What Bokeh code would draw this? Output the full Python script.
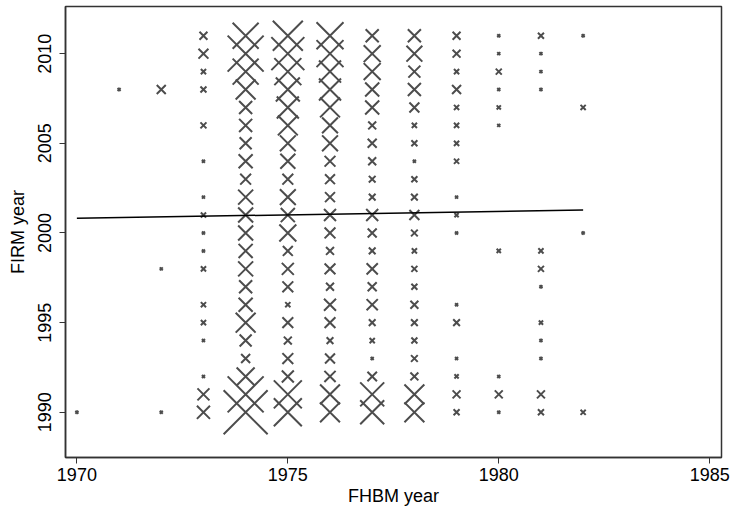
from bokeh.plotting import figure
from bokeh.models import Range1d, FixedTicker, ColumnDataSource
from bokeh.embed import file_html
from bokeh.resources import INLINE
import numpy as np

# FHBM year (x), FIRM year (y), number of observations (marker weight)
fhbm_year = (
    [1970] + [1971] + [1972] * 3
    + [1973] * 17 + [1974] * 22 + [1975] * 22 + [1976] * 22
    + [1977] * 22 + [1978] * 22 + [1979] * 17 + [1980] * 10
    + [1981] * 12 + [1982] * 4
)
firm_year = [
    1990,
    2008,
    2008, 1998, 1990,
    2011, 2010, 2009, 2008, 2006, 2004, 2002, 2001, 2000, 1999, 1998, 1996, 1995, 1994, 1992, 1991, 1990,
    2011, 2010, 2009, 2008, 2007, 2006, 2005, 2004, 2003, 2002, 2001, 2000, 1999, 1998, 1997, 1996, 1995, 1994, 1993, 1992, 1991, 1990,
    2011, 2010, 2009, 2008, 2007, 2006, 2005, 2004, 2003, 2002, 2001, 2000, 1999, 1998, 1997, 1996, 1995, 1994, 1993, 1992, 1991, 1990,
    2011, 2010, 2009, 2008, 2007, 2006, 2005, 2004, 2003, 2002, 2001, 2000, 1999, 1998, 1997, 1996, 1995, 1994, 1993, 1992, 1991, 1990,
    2011, 2010, 2009, 2008, 2007, 2006, 2005, 2004, 2003, 2002, 2001, 2000, 1999, 1998, 1997, 1996, 1995, 1994, 1993, 1992, 1991, 1990,
    2011, 2010, 2009, 2008, 2007, 2006, 2005, 2004, 2003, 2002, 2001, 2000, 1999, 1998, 1997, 1996, 1995, 1994, 1993, 1992, 1991, 1990,
    2011, 2010, 2009, 2008, 2007, 2006, 2005, 2004, 2002, 2001, 2000, 1996, 1995, 1993, 1992, 1991, 1990,
    2011, 2010, 2009, 2008, 2007, 2006, 1999, 1992, 1991, 1990,
    2011, 2010, 2009, 2008, 1999, 1998, 1997, 1995, 1994, 1993, 1991, 1990,
    2011, 2007, 2000, 1990,
]
n_obs = [
    1,
    1,
    9, 1, 1,
    7, 11, 3, 4, 4, 1, 1, 3, 1, 1, 3, 3, 3, 1, 1, 16, 19,
    75, 144, 75, 44, 19, 19, 16, 22, 13, 25, 25, 25, 22, 25, 19, 22, 44, 16, 9, 36, 144, 215,
    100, 121, 81, 64, 54, 44, 28, 25, 13, 28, 22, 32, 11, 16, 13, 3, 13, 7, 13, 16, 87, 87,
    81, 81, 54, 54, 44, 28, 28, 13, 11, 11, 16, 13, 7, 13, 7, 16, 13, 5, 11, 14, 44, 44,
    19, 32, 32, 22, 22, 7, 9, 7, 5, 5, 16, 9, 5, 14, 9, 14, 5, 3, 1, 10, 64, 64,
    19, 28, 16, 19, 11, 3, 4, 1, 4, 5, 11, 5, 3, 4, 4, 7, 5, 4, 5, 7, 44, 44,
    7, 7, 3, 9, 3, 3, 3, 3, 1, 2, 1, 1, 5, 1, 2, 7, 4,
    1, 1, 4, 1, 2, 1, 2, 1, 7, 1,
    4, 1, 1, 1, 3, 4, 1, 2, 1, 1, 7, 4,
    1, 3, 1, 3,
]

# fitted line (linear fit of FIRM year on FHBM year)
fit_x = [1970, 1982]
fit_y = [2000.82, 2001.28]

x_ticks = [1970, 1975, 1980, 1985]
y_ticks = [1990, 1995, 2000, 2005, 2010]

src = ColumnDataSource(dict(
    x=fhbm_year,
    y=firm_year,
    size=list(3.0 * np.sqrt(2.0) * np.sqrt(np.array(n_obs, dtype=float))),
))

FONT = "Liberation Sans"
p = figure(
    width=730, height=508,
    output_backend="svg", toolbar_location=None,
    x_range=Range1d(1969.73, 1985.28),
    y_range=Range1d(1987.48, 2012.63),
    min_border_left=65, min_border_right=9,
    min_border_top=6, min_border_bottom=50,
    background_fill_color="white", border_fill_color="white",
)
p.outline_line_color = "#333333"
p.outline_line_width = 1.5
p.grid.visible = False

p.scatter("x", "y", source=src, marker="x", size="size",
          line_color="#4d4d4d", line_width=2)
p.line(fit_x, fit_y, line_color="black", line_width=1.5)

for ax in (p.xaxis[0], p.yaxis[0]):
    ax.axis_line_color = "#333333"
    ax.axis_line_width = 1.5
    ax.major_tick_line_color = "#333333"
    ax.major_tick_out = 6
    ax.major_tick_in = 0
    ax.minor_tick_line_color = None
    ax.major_label_text_font = FONT
    ax.major_label_text_font_size = "18px"
    ax.major_label_text_color = "black"
    ax.major_label_text_line_height = 0.9
    ax.axis_label_text_font = FONT
    ax.axis_label_text_font_size = "18px"
    ax.axis_label_text_font_style = "normal"
    ax.axis_label_text_color = "black"
    ax.axis_label_text_line_height = 0.9

p.xaxis.ticker = FixedTicker(ticks=x_ticks)
p.yaxis.ticker = FixedTicker(ticks=y_ticks)
p.xaxis.axis_label = "FHBM year"
p.yaxis.axis_label = "FIRM year"
p.yaxis.major_label_orientation = "vertical"
p.xaxis.major_label_standoff = 4
p.yaxis.major_label_standoff = 8
p.xaxis.axis_label_standoff = 2
p.yaxis.axis_label_standoff = 8

open("out.html", "w").write(file_html(p, INLINE))
